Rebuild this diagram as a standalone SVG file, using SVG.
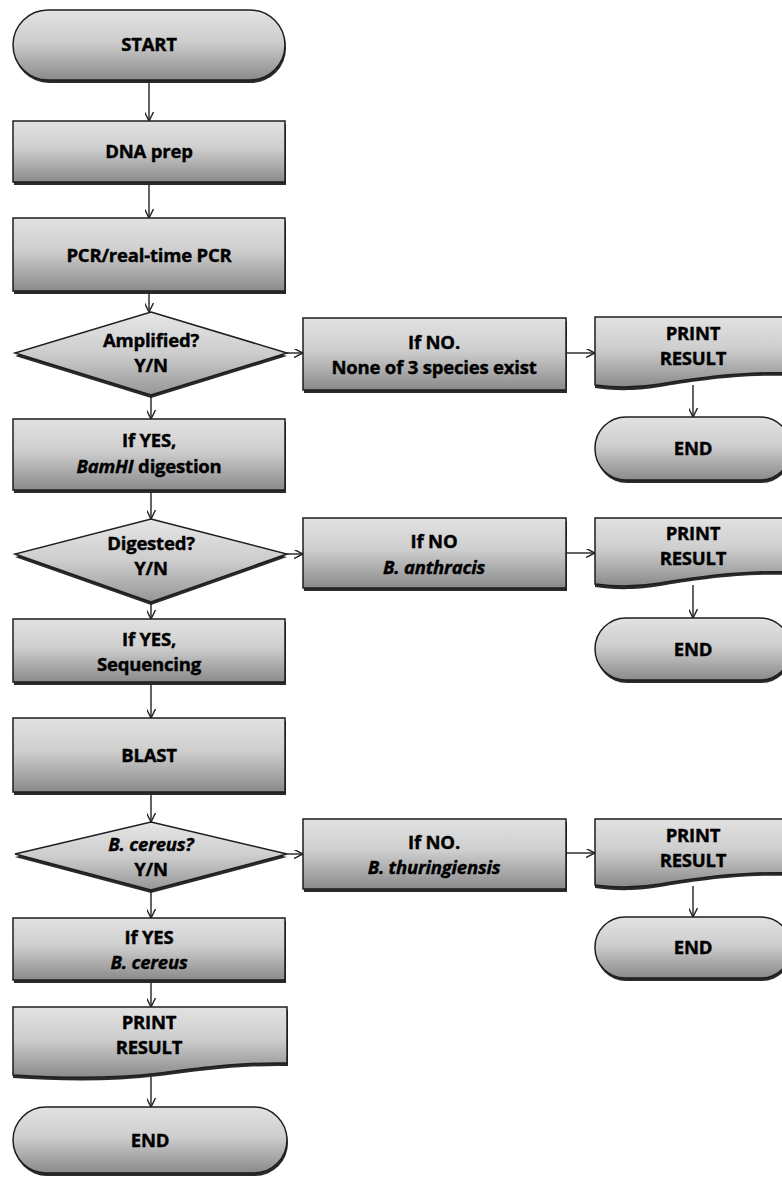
<svg xmlns="http://www.w3.org/2000/svg" width="782" height="1178" viewBox="0 0 782 1178">
<defs>
<linearGradient id="g" x1="0" y1="0" x2="0" y2="1">
<stop offset="0" stop-color="#e2e2e2"/>
<stop offset="0.45" stop-color="#cecece"/>
<stop offset="1" stop-color="#8a8a8a"/>
</linearGradient>
<linearGradient id="gd" x1="0" y1="0" x2="0" y2="1">
<stop offset="0" stop-color="#e6e6e6"/>
<stop offset="0.5" stop-color="#cdcdcd"/>
<stop offset="1" stop-color="#969696"/>
</linearGradient>
<marker id="arr" viewBox="0 0 10 10" refX="10" refY="5" markerWidth="9" markerHeight="9" orient="auto" markerUnits="userSpaceOnUse">
<path d="M0,0 L10,5 L0,10" fill="none" stroke="#222" stroke-width="1.6"/>
</marker>
</defs>
<style>
.n{fill:url(#g);stroke:#1e1e1e;stroke-width:1.5}
.d{fill:url(#gd);stroke:#1e1e1e;stroke-width:1.5}
.sh{fill:#2a2a2a}
.t{font-family:"Open Sans","Noto Sans","Liberation Sans",sans-serif;font-weight:bold;font-size:18.5px;fill:#000;text-anchor:middle;letter-spacing:-0.2px;stroke:#000;stroke-width:0.4px}
.i{font-style:italic}
.c{fill:none;stroke:#222;stroke-width:1.4;marker-end:url(#arr)}
</style>
<rect width="782" height="1178" fill="#fff"/>

<g id="start">
<rect class="sh" x="14" y="13" width="272" height="70" rx="35"/>
<rect class="n" x="13" y="10" width="272" height="70" rx="35"/>
<text class="t" x="149" y="51">START</text>
</g>
<g id="dnaprep">
<rect class="sh" x="14" y="124" width="272" height="61"/>
<rect class="n" x="13" y="121" width="272" height="61"/>
<text class="t" x="149" y="158">DNA prep</text>
</g>
<g id="pcr">
<rect class="sh" x="14" y="221" width="272" height="73"/>
<rect class="n" x="13" y="218" width="272" height="73"/>
<text class="t" x="149" y="262">PCR/real-time PCR</text>
</g>
<g id="amplified">
<polygon class="sh" points="151,315 287,356 151,398 15,356"/>
<polygon class="d" points="151,312 287,353 151,395 15,353"/>
<text class="t" x="151" y="347">Amplified?</text>
<text class="t" x="151" y="372">Y/N</text>
</g>
<g id="none">
<rect class="sh" x="304" y="321" width="263" height="72"/>
<rect class="n" x="303" y="318" width="263" height="72"/>
<text class="t" x="434" y="349">If NO.</text>
<text class="t" x="434" y="374">None of 3 species exist</text>
</g>
<g id="print1">
<path class="sh" d="M595,320 H790 V376 C 740,374 690,382 660,387 C 630,392 610,390 595,388 Z"/>
<path class="n" d="M595,317 H790 V373 C 740,371 690,379 660,384 C 630,389 610,387 595,385 Z"/>
<text class="t" x="693" y="340">PRINT</text>
<text class="t" x="693" y="365">RESULT</text>
</g>
<g id="end1">
<rect class="sh" x="596" y="420" width="196" height="63" rx="31"/>
<rect class="n" x="595" y="417" width="196" height="63" rx="31"/>
<text class="t" x="693" y="455">END</text>
</g>
<g id="bamhi">
<rect class="sh" x="14" y="422" width="272" height="71"/>
<rect class="n" x="13" y="419" width="272" height="71"/>
<text class="t" x="149" y="447">If YES,</text>
<text class="t" x="149" y="473"><tspan class="i">BamHI</tspan> digestion</text>
</g>
<g id="digested">
<polygon class="sh" points="151,522 287,557 151,605 15,557"/>
<polygon class="d" points="151,519 287,554 151,602 15,554"/>
<text class="t" x="151" y="550">Digested?</text>
<text class="t" x="151" y="575">Y/N</text>
</g>
<g id="anthracis">
<rect class="sh" x="304" y="521" width="263" height="70"/>
<rect class="n" x="303" y="518" width="263" height="70"/>
<text class="t" x="434" y="548">If NO</text>
<text class="t i" x="434" y="574">B. anthracis</text>
</g>
<g id="print2">
<path class="sh" d="M595,521 H790 V575 C 740,573 690,581 660,586 C 630,591 610,589 595,587 Z"/>
<path class="n" d="M595,518 H790 V572 C 740,570 690,578 660,583 C 630,588 610,586 595,584 Z"/>
<text class="t" x="693" y="540">PRINT</text>
<text class="t" x="693" y="565">RESULT</text>
</g>
<g id="end2">
<rect class="sh" x="596" y="621" width="196" height="62" rx="31"/>
<rect class="n" x="595" y="618" width="196" height="62" rx="31"/>
<text class="t" x="693" y="656">END</text>
</g>
<g id="sequencing">
<rect class="sh" x="14" y="622" width="272" height="63"/>
<rect class="n" x="13" y="619" width="272" height="63"/>
<text class="t" x="149" y="646">If YES,</text>
<text class="t" x="149" y="671">Sequencing</text>
</g>
<g id="blast">
<rect class="sh" x="14" y="721" width="272" height="74"/>
<rect class="n" x="13" y="718" width="272" height="74"/>
<text class="t" x="149" y="762">BLAST</text>
</g>
<g id="cereusq">
<polygon class="sh" points="151,825 287,857 151,893 15,857"/>
<polygon class="d" points="151,822 287,854 151,890 15,854"/>
<text class="t i" x="151" y="851">B. cereus?</text>
<text class="t" x="151" y="876">Y/N</text>
</g>
<g id="thuringiensis">
<rect class="sh" x="304" y="822" width="263" height="70"/>
<rect class="n" x="303" y="819" width="263" height="70"/>
<text class="t" x="434" y="849">If NO.</text>
<text class="t i" x="434" y="874">B. thuringiensis</text>
</g>
<g id="print3">
<path class="sh" d="M595,822 H790 V876 C 740,874 690,882 660,887 C 630,892 610,890 595,888 Z"/>
<path class="n" d="M595,819 H790 V873 C 740,871 690,879 660,884 C 630,889 610,887 595,885 Z"/>
<text class="t" x="693" y="842">PRINT</text>
<text class="t" x="693" y="867">RESULT</text>
</g>
<g id="end3">
<rect class="sh" x="596" y="920" width="196" height="61" rx="30"/>
<rect class="n" x="595" y="917" width="196" height="61" rx="30"/>
<text class="t" x="693" y="954">END</text>
</g>
<g id="cereus">
<rect class="sh" x="14" y="921" width="272" height="62"/>
<rect class="n" x="13" y="918" width="272" height="62"/>
<text class="t" x="149" y="944">If YES</text>
<text class="t i" x="149" y="969">B. cereus</text>
</g>
<g id="print4">
<path class="sh" d="M13,1010 H288 V1066 C 240,1065 200,1071 160,1076 C 110,1082 60,1081 13,1078 Z"/>
<path class="n" d="M13,1007 H287 V1063 C 240,1062 200,1068 160,1073 C 110,1079 60,1078 13,1075 Z"/>
<text class="t" x="149" y="1029">PRINT</text>
<text class="t" x="149" y="1054">RESULT</text>
</g>
<g id="end4">
<rect class="sh" x="14" y="1110" width="274" height="66" rx="33"/>
<rect class="n" x="13" y="1107" width="274" height="66" rx="33"/>
<text class="t" x="150" y="1147">END</text>
</g>

<g id="connectors">
<line class="c" x1="149" y1="80" x2="149" y2="121"/>
<line class="c" x1="149" y1="185" x2="149" y2="218"/>
<line class="c" x1="149" y1="294" x2="149" y2="312"/>
<line class="c" x1="151" y1="396" x2="151" y2="419"/>
<line class="c" x1="151" y1="493" x2="151" y2="519"/>
<line class="c" x1="151" y1="603" x2="151" y2="619"/>
<line class="c" x1="151" y1="685" x2="151" y2="718"/>
<line class="c" x1="151" y1="795" x2="151" y2="822"/>
<line class="c" x1="151" y1="891" x2="151" y2="918"/>
<line class="c" x1="151" y1="983" x2="151" y2="1007"/>
<line class="c" x1="151" y1="1077" x2="151" y2="1107"/>
<line class="c" x1="287" y1="353" x2="303" y2="353"/>
<line class="c" x1="566" y1="353" x2="595" y2="353"/>
<line class="c" x1="693" y1="385" x2="693" y2="417"/>
<line class="c" x1="287" y1="554" x2="303" y2="554"/>
<line class="c" x1="566" y1="553" x2="595" y2="553"/>
<line class="c" x1="693" y1="585" x2="693" y2="618"/>
<line class="c" x1="287" y1="854" x2="303" y2="854"/>
<line class="c" x1="566" y1="853" x2="595" y2="853"/>
<line class="c" x1="693" y1="886" x2="693" y2="917"/>
</g>
</svg>
